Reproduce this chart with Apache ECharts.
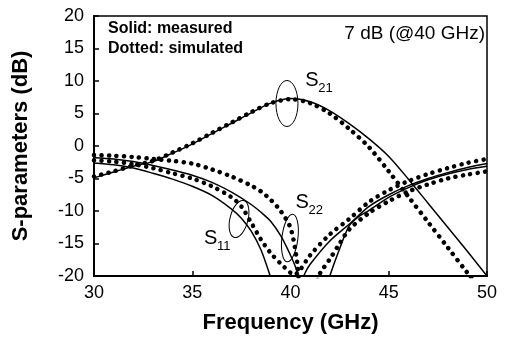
<!DOCTYPE html>
<html>
<head>
<meta charset="utf-8">
<script src="https://cdn.jsdelivr.net/npm/echarts@6/dist/echarts.min.js"></script>
<style>
html, body { margin: 0; padding: 0; background: #fff; }
#main { width: 506px; height: 339px; }
</style>
</head>
<body>
<div id="main"></div>
<script>
// S21 (medido = linea continua, simulado = puntos)
var freqS21 = [30, 31, 32, 33, 34, 35, 36, 37, 38, 39, 40, 41, 42, 43, 44, 45, 46, 47, 48, 49, 50];
var s21Medido = [-4.9, -4.0, -3.1, -2.4, -1.1, 0.3, 1.9, 3.5, 5.1, 6.6, 7.3, 6.8, 5.4, 3.4, 1.1, -1.6, -5.1, -8.8, -12.5, -16.2, -20];
var s21Simulado = [-4.7, -3.9, -3.0, -2.3, -1.0, 0.4, 2.0, 3.6, 5.2, 6.6, 7.2, 6.6, 5.0, 2.6, -0.2, -3.9, -7.8, -11.7, -15.6, -19.5, -23.4];

// S11
var freqS11Med = [30, 31, 32, 33, 34, 35, 36, 37, 37.5, 38, 38.5, 39, 39.5, 40.5, 41.5, 42, 42.5, 43, 43.5, 44, 45, 46, 47, 48, 49, 50];
var s11Medido = [-2.6, -2.9, -3.4, -4.2, -5.1, -6.2, -7.6, -9.7, -11.1, -13.1, -16.0, -20.3, -25, -29, -25, -20, -15.8, -12.2, -10.8, -9.9, -7.9, -6.4, -5.2, -4.3, -3.6, -3.1];
var freqS11Sim = [30, 31, 32, 33, 34, 35, 36, 37, 37.5, 38, 38.5, 39, 39.5, 40, 40.2, 40.5, 41, 42, 43, 44, 45, 46, 47, 48, 49, 50];
var s11Simulado = [-2.2, -2.4, -2.8, -3.4, -4.2, -5.0, -6.2, -7.9, -9.3, -11.8, -14.4, -16.5, -18.1, -19.5, -19.8, -19.0, -16.8, -13.6, -11.2, -8.6, -6.8, -5.4, -4.3, -3.4, -2.6, -2.0];

// S22
var freqS22Med = [30, 31, 32, 33, 34, 35, 36, 37, 38, 38.5, 39, 39.5, 40, 40.3, 40.5, 40.7, 41, 42, 43, 44, 45, 46, 47, 48, 49, 50];
var s22Medido = [-1.8, -2.0, -2.4, -3.0, -3.7, -4.5, -5.6, -7.1, -9.0, -10.2, -11.6, -13.8, -16.8, -19.0, -21.5, -19.8, -18.2, -14.6, -12.0, -9.3, -7.5, -6.1, -5.0, -4.1, -3.3, -2.7];
var freqS22Sim = [30, 31, 32, 33, 34, 35, 36, 37, 38, 38.5, 39, 39.5, 40, 40.3, 40.6, 41, 41.5, 42, 42.5, 43, 44, 45, 46, 47, 48, 49, 50];
var s22Simulado = [-1.4, -1.5, -1.7, -2.0, -2.3, -2.7, -3.6, -4.7, -6.1, -7.0, -8.3, -10.0, -12.6, -17.0, -23, -23, -19.6, -17.4, -15.0, -12.8, -10.3, -8.5, -7.0, -5.9, -5.0, -4.4, -3.9];

var fuente = "Arial, 'Liberation Sans', sans-serif";

function Pares(xs, ys) {
     var d = [];
     for (var i = 0; i < xs.length; i++) {
          d.push([xs[i], ys[i]]);
     }
     return d;
}

function SerieContinua(nombre, datos) {
     return {
          name: nombre,
          type: 'line',
          smooth: 0.3,
          symbol: 'none',
          data: datos,
          lineStyle: { color: '#000', width: 1.5 }
     };
}

function SeriePuntos(nombre, datos) {
     return {
          name: nombre,
          type: 'line',
          smooth: 0.3,
          symbol: 'none',
          data: datos,
          lineStyle: { color: '#000', width: 4.5, type: [0.1, 7.4], cap: 'round' }
     };
}

var grafica = echarts.init(document.getElementById('main'));

grafica.setOption({
     animation: false,
     backgroundColor: '#fff',
     grid: {
          left: 94, right: 19, top: 16, bottom: 63,
          containLabel: false,
          show: true,
          borderColor: '#000',
          borderWidth: 1.5
     },
     xAxis: {
          type: 'value',
          min: 30, max: 50, interval: 5,
          name: 'Frequency (GHz)',
          nameLocation: 'middle',
          nameGap: 36,
          nameTextStyle: { color: '#000', fontSize: 22, fontWeight: 'bold', fontFamily: fuente },
          axisLine: { onZero: false, lineStyle: { color: '#000', width: 2 } },
          axisTick: { inside: true, length: 5, lineStyle: { color: '#000', width: 1.5 } },
          axisLabel: { color: '#000', fontSize: 18, fontFamily: fuente, margin: 8 },
          splitLine: { show: false }
     },
     yAxis: {
          type: 'value',
          min: -20, max: 20, interval: 5,
          name: 'S-parameters (dB)',
          nameLocation: 'middle',
          nameGap: 62,
          nameTextStyle: { color: '#000', fontSize: 22, fontWeight: 'bold', fontFamily: fuente },
          axisLine: { onZero: false, lineStyle: { color: '#000', width: 2 } },
          axisTick: { inside: true, length: 5, lineStyle: { color: '#000', width: 1.5 } },
          axisLabel: { color: '#000', fontSize: 18, fontFamily: fuente, margin: 10 },
          splitLine: { show: false }
     },
     series: [
          SeriePuntos('S21 simulado', Pares(freqS21, s21Simulado)),
          SerieContinua('S21 medido', Pares(freqS21, s21Medido)),
          SeriePuntos('S11 simulado', Pares(freqS11Sim, s11Simulado)),
          SerieContinua('S11 medido', Pares(freqS11Med, s11Medido)),
          SeriePuntos('S22 simulado', Pares(freqS22Sim, s22Simulado)),
          SerieContinua('S22 medido', Pares(freqS22Med, s22Medido))
     ]
});

// anotaciones: elipses y etiquetas en coordenadas de datos
function Elipse(centro, rx, ry, giro) {
     var p = grafica.convertToPixel({ gridIndex: 0 }, centro);
     return {
          type: 'ellipse',
          x: p[0], y: p[1],
          rotation: giro,
          shape: { cx: 0, cy: 0, rx: rx, ry: ry },
          style: { fill: 'none', stroke: '#000', lineWidth: 1 },
          z: 100
     };
}

function Etiqueta(punto, sub) {
     var p = grafica.convertToPixel({ gridIndex: 0 }, punto);
     return [{
          type: 'text', x: p[0], y: p[1], z: 100,
          style: { text: 'S', fontSize: 20, fontFamily: fuente, fill: '#000', align: 'left', verticalAlign: 'middle' }
     }, {
          type: 'text', x: p[0] + 13, y: p[1] + 8, z: 100,
          style: { text: sub, fontSize: 13, fontFamily: fuente, fill: '#000', align: 'left', verticalAlign: 'middle' }
     }];
}

var graficos = [
     Elipse([39.82, 6.54], 11, 23, 0),
     Elipse([37.38, -11.23], 9, 19, -0.25),
     Elipse([39.97, -14.15], 8, 24, -0.12),
     {
          type: 'text', x: 108, y: 29, z: 100,
          style: { text: 'Solid: measured', fontSize: 16, fontWeight: 'bold', fontFamily: fuente, fill: '#000', align: 'left', verticalAlign: 'middle' }
     },
     {
          type: 'text', x: 108, y: 49, z: 100,
          style: { text: 'Dotted: simulated', fontSize: 16, fontWeight: 'bold', fontFamily: fuente, fill: '#000', align: 'left', verticalAlign: 'middle' }
     },
     {
          type: 'text', x: 485, y: 34, z: 100,
          style: { text: '7 dB (@40 GHz)', fontSize: 19, fontFamily: fuente, fill: '#000', align: 'right', verticalAlign: 'middle' }
     }
];
graficos = graficos.concat(Etiqueta([40.75, 10.1], '21'));
graficos = graficos.concat(Etiqueta([40.25, -8.7], '22'));
graficos = graficos.concat(Etiqueta([35.6, -14.2], '11'));

grafica.setOption({ graphic: graficos });
</script>
</body>
</html>
